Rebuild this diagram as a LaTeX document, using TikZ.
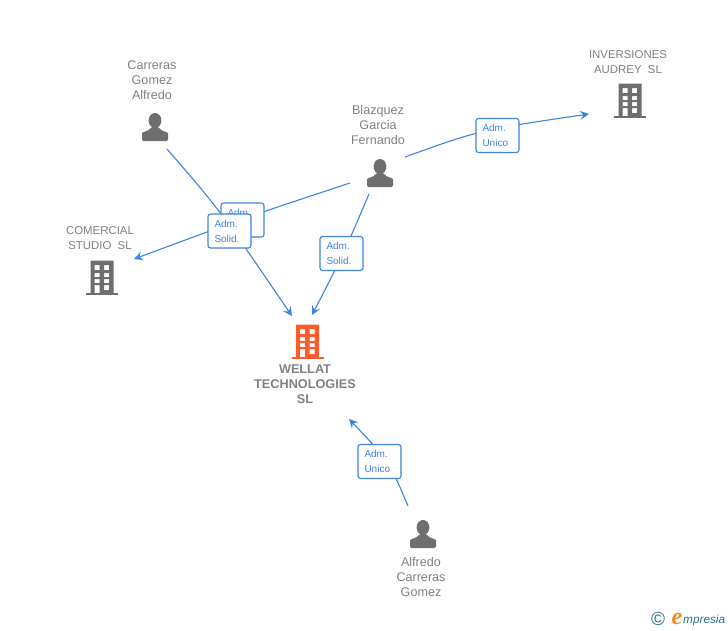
\documentclass[tikz,border=0pt]{standalone}
\usepackage{fontspec}
\setmainfont{Liberation Sans}
\newfontfamily\logofont{Liberation Serif}
\usetikzlibrary{arrows.meta}
\definecolor{linkblue}{HTML}{3D84E0}
\definecolor{icongray}{HTML}{6E6E6E}
\definecolor{textgray}{HTML}{808080}
\definecolor{mainorange}{HTML}{FF5C2E}
\definecolor{logoteal}{HTML}{2F7189}
\definecolor{logoorange}{HTML}{F08A1D}
\tikzset{
	link/.style={linkblue,line width=1.1pt,-{Stealth[length=9pt,width=9pt,inset=3.5pt]}},
	rolebox/.style={draw=linkblue,line width=1.1pt,fill=white,rounded corners=2.5pt,minimum width=43pt,minimum height=34pt,inner sep=0pt,text width=30pt,align=left,text=linkblue,font=\fontsize{10}{15}\selectfont},
	entity/.style={align=center,text=textgray,inner sep=0pt,font=\fontsize{12.6}{15}\selectfont},
	capsentity/.style={entity,font=\fontsize{11.4}{15}\selectfont},
	pics/person/.style={code={
		\fill[icongray,rounded corners=1.5pt] (-13,14) -- (-13,8) .. controls (-13,4.5) and (-6,4.5) .. (-4,0) -- (4,0) .. controls (6,4.5) and (13,4.5) .. (13,8) -- (13,14) -- cycle;
		\fill[icongray] (0,-6.5) ellipse (6.4 and 7.5);
	}},
	pics/building/.style={code={
		\fill[#1,even odd rule] (-11.5,-16.5) rectangle (11.5,16)
			(-7.5,-12) rectangle (-2.5,-7) (2,-12) rectangle (7,-7)
			(-7.5,-4) rectangle (-2.5,0) (2,-4) rectangle (7,0)
			(-7.5,2) rectangle (-2.5,6) (2,2) rectangle (7,6)
			(-7.5,8) rectangle (-2.5,16) (2,8) rectangle (7,13);
		\fill[#1] (-16,16) rectangle (16,18);
	}}
}
\begin{document}
\begin{tikzpicture}[x=1pt,y=-1pt]
		\useasboundingbox (0,0) rectangle (728,630);
		% free ends of the links
		\coordinate (carrerasout) at (167,149);
		\coordinate (blazquezleft) at (350,183);
		\coordinate (blazquezright) at (405,157);
		\coordinate (blazquezdown) at (369,194);
		\coordinate (alfredoout) at (408,506);
		\coordinate (wellatleft) at (292,316);
		\coordinate (wellatright) at (312,315);
		\coordinate (wellatbelow) at (349,419);
		\coordinate (comercialin) at (134,259);
		\coordinate (inversionesin) at (589,114);
		% links
		\draw[link] (carrerasout) .. controls (219,209) .. (wellatleft);
		\draw[link] (blazquezleft) .. controls (250,216) .. (comercialin);
		\draw[link] (blazquezright) .. controls (480,130) .. (inversionesin);
		\draw[link] (blazquezdown) .. controls (343,255) .. (wellatright);
		\draw[link] (alfredoout) .. controls (389,461) .. (wellatbelow);
		% roles
		\node[rolebox] (roleunder) at (242.5,220) {Adm.\\Solid.};
		\node[rolebox] (rolecomercial) at (229.5,231) {Adm.\\Solid.};
		\node[rolebox] (roleaudrey) at (497.5,135.5) {Adm.\\Unico};
		\node[rolebox] (roleblazquez) at (341.5,253.5) {Adm.\\Solid.};
		\node[rolebox] (rolealfredo) at (379.5,461.5) {Adm.\\Unico};
		% people
		\pic at (155,127) {person};
		\pic at (380,173) {person};
		\pic at (423,534) {person};
		\node[entity] (carreras) at (152,80) {Carreras\\Gomez\\Alfredo};
		\node[entity] (blazquez) at (378,125) {Blazquez\\Garcia\\Fernando};
		\node[entity] (alfredo) at (421,577) {Alfredo\\Carreras\\Gomez};
		% companies
		\pic at (630,100) {building=icongray};
		\pic at (102,277) {building=icongray};
		\pic at (307.5,341) {building=mainorange};
		\node[capsentity] (inversiones) at (628,62.5) {INVERSIONES\\AUDREY~~SL};
		\node[capsentity] (comercial) at (100,238.5) {COMERCIAL\\STUDIO~~SL};
		\node[entity,font=\fontsize{12.7}{15}\selectfont\bfseries] (wellat) at (305,384.5) {WELLAT\\TECHNOLOGIES\\SL};
		% logo
		\node[text=logoteal,inner sep=0pt,font=\fontsize{19}{19}\selectfont] (copyright) at (658,619) {\char"00A9};
		\node[text=logoorange,inner sep=0pt,font=\fontsize{24}{24}\logofont\itshape\bfseries] (logoe) at (677,619) {e};
		\node[text=logoteal,inner sep=0pt,anchor=west,font=\fontsize{11.8}{14}\selectfont\itshape] (logotext) at (683,620) {mpresia};
		\end{tikzpicture}
\end{document}
